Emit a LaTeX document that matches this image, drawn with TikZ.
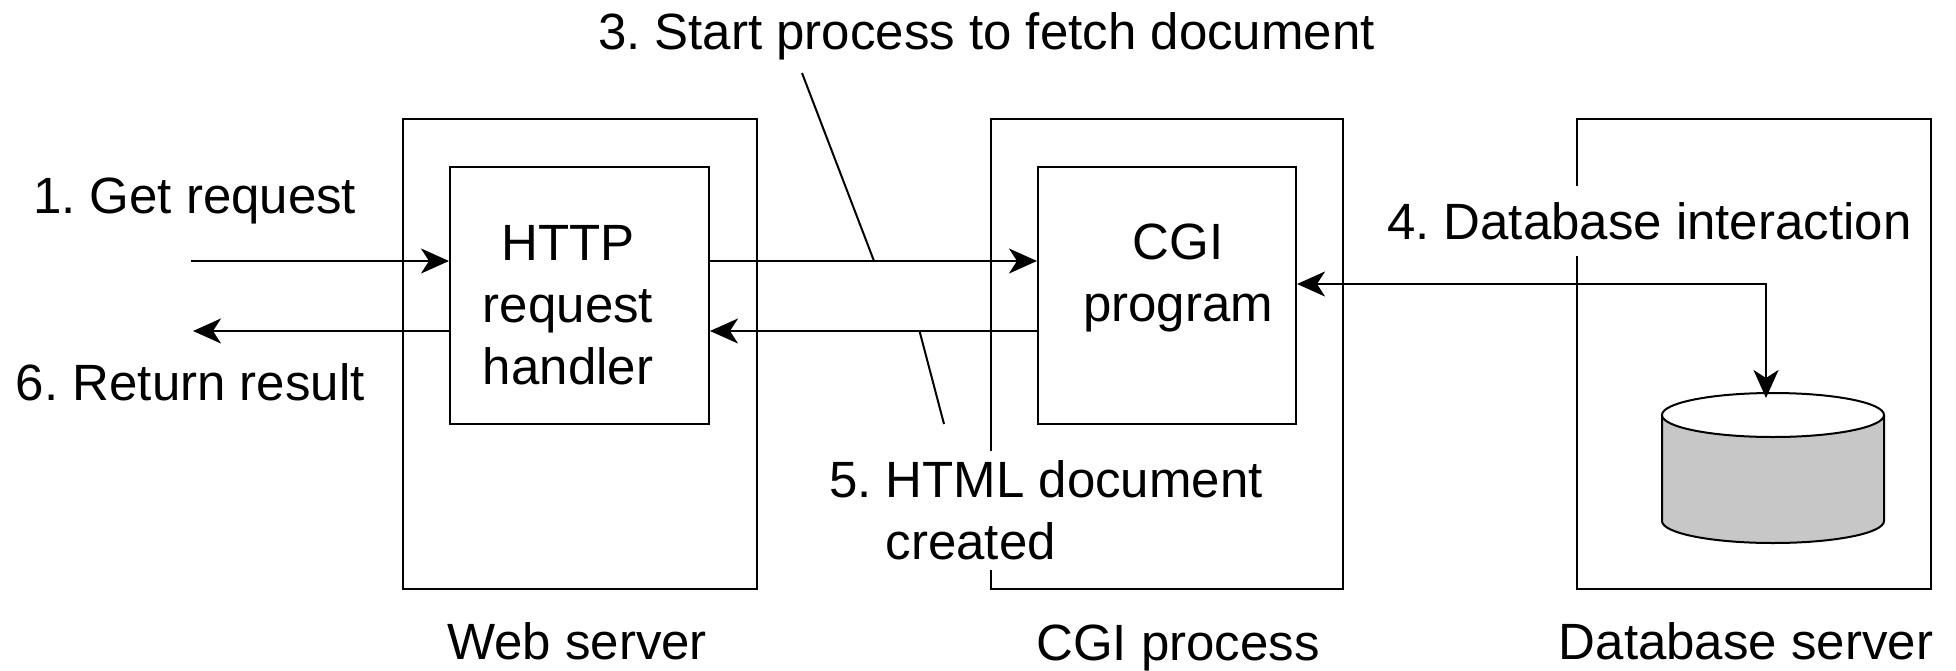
\documentclass[tikz,border=0pt]{standalone}
\usepackage{fontspec}
\setmainfont{Liberation Sans}
\usetikzlibrary{arrows.meta,positioning}
\frenchspacing

\tikzset{
	>={Stealth[length=14pt,width=12.5pt,inset=4pt]},
	box/.style={draw, line width=1pt, inner sep=0pt},
	txt/.style={font=\fontsize{25.5}{31}\selectfont, inner sep=0pt},
	cut/.style={txt, fill=white, inner xsep=2pt, inner ysep=8pt}
}

\begin{document}
\begin{tikzpicture}[x=0.5pt,y=-0.5pt, line width=1pt]
			\useasboundingbox (0,0) rectangle (1956,670);
			\node[box, minimum width=177pt, minimum height=235pt] (web) at (580,354) {};
			\node[box, minimum width=129.5pt, minimum height=128.5pt] (http) at (579.5,295.5) {};
			\node[box, minimum width=176pt, minimum height=235pt] (proc) at (1167,354) {};
			\node[box, minimum width=129pt, minimum height=128.5pt] (cgi) at (1167,295.5) {};
			\node[box, minimum width=177pt, minimum height=235pt] (db) at (1754,354) {};
			\draw[fill=black!22] (1662,415) -- (1662,521) arc[start angle=180, end angle=0, x radius=111, y radius=22] -- (1884,415);
			\draw[fill=white] (1773,415) ellipse [x radius=111, y radius=22];
			\coordinate (in) at (191,261);
			\coordinate (out) at (193,331);
			\coordinate (turn) at (1766,284);
			\coordinate (disk) at (1766,398);
			\draw[->] (in) to (in -| http.west);
			\draw[->] (http.west |- out) to (out);
			\draw[->] (http.east |- in) to (cgi.west |- in);
			\draw[->] (cgi.west |- out) to (http.east |- out);
			\draw[<->] (cgi.east |- turn) -- (turn) -- (disk);
			\coordinate (p3) at (802,73);
			\coordinate (q3) at (874,261);
			\coordinate (p5) at (919.5,331);
			\coordinate (q5) at (944,424);
			\draw (p3) -- (q3);
			\draw (p5) -- (q5);
			\node[txt, anchor=base west] (get) at (32,213) {1. Get request};
			\node[txt, anchor=base west] (ret) at (15,400) {6. Return result};
			\node[txt, anchor=base west] (start) at (597,49) {3. Start process to fetch document};
			\node[cut, anchor=base west] (inter) at (1382,239) {4. Database interaction};
			\node[cut, inner ysep=5pt, align=left, anchor=north west] (html) at (824,450) {5. HTML document\\\hphantom{5.\ }created};
			\node[txt, align=center, anchor=north] at (568,224.5) {HTTP\\request\\handler};
			\node[txt, align=center, anchor=north] at (1178,223) {CGI\\program};
			\node[txt, anchor=base] at (577,659) {Web server};
			\node[txt, anchor=base] at (1178,660) {CGI process};
			\node[txt, anchor=base] at (1746,659) {Database server};
			\end{tikzpicture}
\end{document}
